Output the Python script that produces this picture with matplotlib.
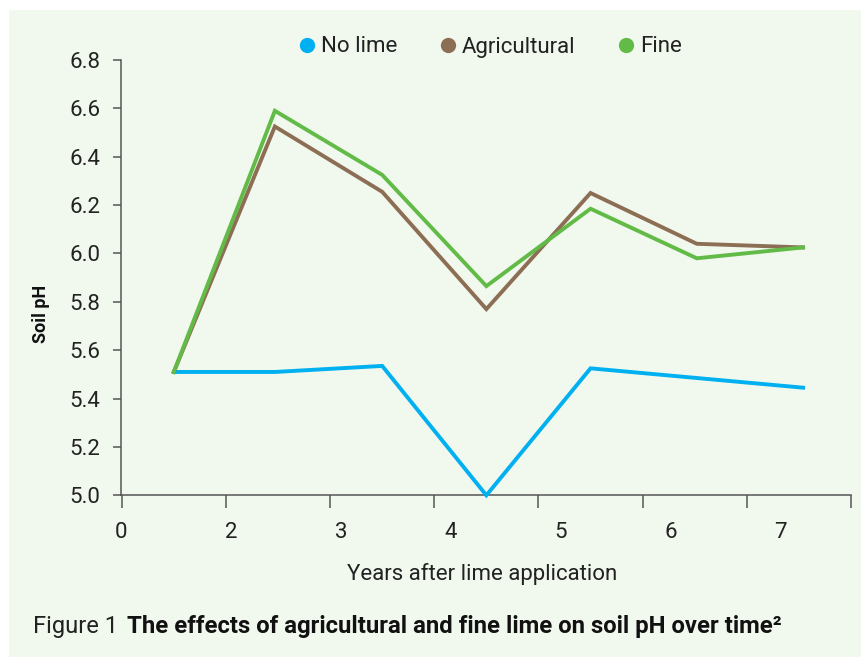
import matplotlib
matplotlib.use("Agg")
import matplotlib.pyplot as plt
from matplotlib.lines import Line2D
from matplotlib.patches import Rectangle

# ---- data ----
x_pos = [0.5, 1.47, 2.5, 3.5, 4.5, 5.52, 6.54]
no_lime = [5.51, 5.51, 5.535, 5.0, 5.525, 5.485, 5.445]
agricultural = [5.51, 6.525, 6.255, 5.77, 6.25, 6.04, 6.025]
fine = [5.51, 6.59, 6.325, 5.865, 6.185, 5.98, 6.025]
tick_labels = ["0", "2", "3", "4", "5", "6", "7"]
y_ticks = [5.0, 5.2, 5.4, 5.6, 5.8, 6.0, 6.2, 6.4, 6.6, 6.8]

series_names = ["No lime", "Agricultural", "Fine"]
colors = ["#00b0f0", "#8c6e55", "#62bb46"]

W, H = 862, 657
fig = plt.figure(figsize=(W / 100, H / 100), dpi=100)
fig.patch.set_facecolor("white")
bg = "#f1f8ee"
fig.patches.append(Rectangle((9 / W, 0), 1 - 9 / W, 1 - 10 / H,
                             transform=fig.transFigure, facecolor=bg,
                             edgecolor="none", zorder=-10))

font = "Roboto"
plt.rcParams["font.family"] = [font, "DejaVu Sans"]

left, right = 121, 851
top, bottom = 60, 495.3
ax = fig.add_axes([left / W, 1 - bottom / H, (right - left) / W, (bottom - top) / H])
ax.set_facecolor("none")

for ys, c in zip([no_lime, agricultural, fine], colors):
    ax.plot(x_pos, ys, color=c, lw=2.8, solid_joinstyle="miter", clip_on=False, zorder=3)

ax.set_xlim(0, 7)
ax.set_ylim(5.0, 6.8)
ax.set_yticks(y_ticks)
ax.set_yticklabels([f"{v:.1f}" for v in y_ticks])

# tick marks (major, no labels) and labels (minor, no marks)
ax.set_xticks(range(8))
ax.set_xticklabels([""] * 8)
label_pos = [i * 110.1 / 104.3 - 0.007 for i in range(len(tick_labels))]
ax.set_xticks(label_pos, minor=True)
ax.set_xticklabels(tick_labels, minor=True)

spine_c = "#555555"
for s in ["top", "right"]:
    ax.spines[s].set_visible(False)
for s in ["left", "bottom"]:
    ax.spines[s].set_color(spine_c)
    ax.spines[s].set_linewidth(1.1)

ax.tick_params(axis="y", which="major", length=6, width=1.1, color=spine_c,
               labelsize=16, labelcolor="#222222", pad=9)
ax.tick_params(axis="x", which="major", length=9, width=1.1, color=spine_c)
ax.tick_params(axis="x", which="minor", length=0, labelsize=16,
               labelcolor="#222222", pad=19)

ax.set_xlabel("Years after lime application", fontsize=16, color="#222222")
ax.xaxis.set_label_coords((482 - left) / (right - left), -(574 - bottom) / (bottom - top))
ax.xaxis.label.set_va("center")
ax.set_ylabel("Soil pH", fontsize=13, fontweight="bold", color="#111111")
ax.yaxis.set_label_coords((40.5 - left) / (right - left), (bottom - 314) / (bottom - top))
ax.yaxis.label.set_va("center")

handles = [Line2D([], [], ls="none", marker="o", markersize=11, color=c,
                  markeredgewidth=0) for c in colors]
fig.legend(handles, series_names, loc="center", ncol=3, frameon=False,
           bbox_to_anchor=(489 / W, 1 - 47 / H), fontsize=16,
           handletextpad=0.15, columnspacing=1.75, handlelength=1.0,
           labelcolor="#222222")

fig.text(33 / W, 1 - 627 / H, "Figure 1", fontsize=17, color="#222222",
         va="center", ha="left")
fig.text(127 / W, 1 - 627 / H, "The effects of agricultural and fine lime on soil pH over time\u00b2",
         fontsize=17.2, fontweight="bold", color="#111111", va="center", ha="left")

fig.savefig("out.png", dpi=100, facecolor=fig.get_facecolor())
